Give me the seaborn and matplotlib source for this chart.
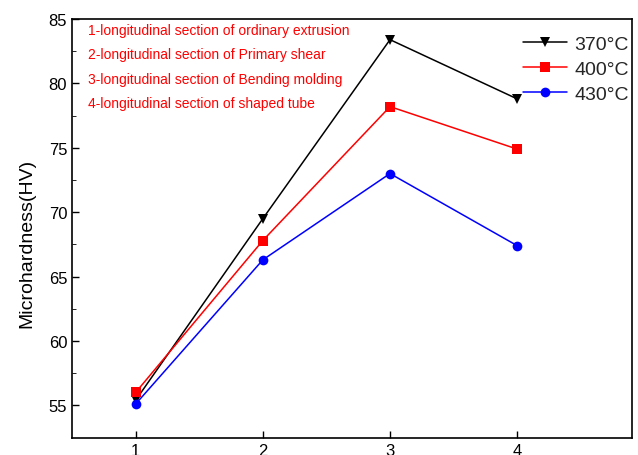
import numpy as np
import pandas as pd
import matplotlib.pyplot as plt
import seaborn as sns

sections = [1, 2, 3, 4]
hv_370 = [55.4, 69.5, 83.4, 78.8]
hv_400 = [56.0, 67.8, 78.2, 74.9]
hv_430 = [55.1, 66.3, 73.0, 67.4]
temps = ["370°C", "400°C", "430°C"]
notes = [
    "1-longitudinal section of ordinary extrusion",
    "2-longitudinal section of Primary shear",
    "3-longitudinal section of Bending molding",
    "4-longitudinal section of shaped tube",
]

df = pd.DataFrame({
    "section": sections * 3,
    "hv": hv_370 + hv_400 + hv_430,
    "temp": np.repeat(temps, len(sections)),
})

sns.set_style("ticks")
plt.rcParams["font.family"] = ["Liberation Sans", "DejaVu Sans"]

fig, ax = plt.subplots(figsize=(6.38, 4.56), dpi=100)
fig.subplots_adjust(left=0.113, right=0.99, top=0.956, bottom=0.037)

sns.lineplot(
    data=df, x="section", y="hv", hue="temp", style="temp",
    palette=["black", "red", "blue"],
    markers=["v", "s", "o"], dashes=False, markersize=7,
    markeredgewidth=0, linewidth=1.1, ax=ax,
)

ax.set_xlim(0.5, 4.9)
ax.set_ylim(52.45, 85)
ax.set_xticks(sections)
ax.set_yticks([55, 60, 65, 70, 75, 80, 85])
ax.set_yticks(np.arange(55, 85, 2.5), minor=True)
ax.tick_params(direction="in", labelsize=12, length=5, colors="black", width=1)
ax.tick_params(which="minor", direction="in", length=3, colors="black")
ax.set_xlabel("")
ax.set_ylabel("Microhardness(HV)", fontsize=14, color="black")
ax.yaxis.set_label_coords(-0.066, 0.468)
for s in ax.spines.values():
    s.set_linewidth(1.2)
    s.set_color("black")

# red notes explaining x positions
for i, t in enumerate(notes):
    ax.text(0.029, (439 - 30.5 - i * 24.5) / 419, t, transform=ax.transAxes,
            color="red", fontsize=10, va="center")

ax.legend(title=None, frameon=False, loc="upper right",
          bbox_to_anchor=(1.012, 0.985), fontsize=14,
          handlelength=2.3, handletextpad=0.35, borderaxespad=0.1,
          borderpad=0.4, labelspacing=0.38)

fig.savefig("out.png", dpi=100)
